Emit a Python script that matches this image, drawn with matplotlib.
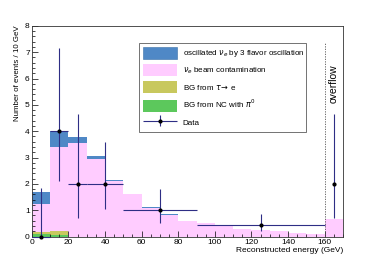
import numpy as np
import matplotlib
matplotlib.use("Agg")
from matplotlib import pyplot as plt
from matplotlib.patches import Patch
from matplotlib.container import ErrorbarContainer
from matplotlib.legend_handler import HandlerErrorbar
from matplotlib.ticker import MultipleLocator

plt.rcParams['font.family'] = ['Liberation Sans', 'DejaVu Sans']

# bin edges (10 GeV bins up to 160, plus overflow bin 160-170)
edges = [0, 10, 20, 30, 40, 50, 60, 70, 80, 90, 100, 110, 120, 130, 140, 150, 160, 170]

# stacked components (events / 10 GeV), bottom to top
bg_nc = [0.08, 0.06, 0, 0, 0, 0, 0, 0, 0, 0, 0, 0, 0, 0, 0, 0, 0]
bg_tau = [0.09, 0.14, 0, 0, 0, 0, 0, 0, 0, 0, 0, 0, 0, 0, 0, 0, 0]
beam_top = [1.24, 3.40, 3.56, 2.94, 2.10, 1.60, 1.10, 0.83, 0.59, 0.50, 0.40, 0.30, 0.25, 0.20, 0.15, 0.10, 0.67]
osc_top = [1.70, 3.99, 3.78, 3.04, 2.15, 1.62, 1.11, 0.84, 0.60, 0.51, 0.40, 0.30, 0.25, 0.20, 0.15, 0.10, 0.67]

# data points
data_x = [5, 15, 25, 40, 70, 125, 165]
data_y = [0, 4, 2, 2, 1, 0.43, 2]
data_xerr = [5, 5, 5, 10, 20, 35, 0]
data_ylo = [0, 1.9, 1.29, 0.95, 0.47, 0.23, 1.29]
data_yhi = [1.84, 3.16, 2.64, 1.58, 0.79, 0.41, 2.64]

c_osc = '#4f88c6'
c_beam = '#ffccff'
c_tau = '#c8c85e'
c_nc = '#5cc85c'
c_data = '#2e2e85'

fig = plt.figure(figsize=(3.74, 2.64), dpi=100)
ax = fig.add_axes([0.085, 0.104, 0.832, 0.798])

nc = np.array(bg_nc)
tau = nc + np.array(bg_tau)
ax.stairs(osc_top, edges, fill=True, color=c_osc)
ax.stairs(beam_top, edges, fill=True, color=c_beam)
ax.stairs(tau, edges, fill=True, color=c_tau)
ax.stairs(nc, edges, fill=True, color=c_nc)

data = ax.errorbar(data_x, data_y, xerr=data_xerr, yerr=[data_ylo, data_yhi],
                   fmt='o', ms=2, color='black', ecolor=c_data, elinewidth=0.8,
                   capsize=0, clip_on=False, zorder=5)

ax.plot([160, 160], [0, 7.35], ls=(0, (1.5, 1.5)), color='#555555', lw=0.6)
ax.text(164.8, 5.8, 'overflow', rotation=90, ha='center', va='center', fontsize=7.5)

ax.set_xlim(0, 170)
ax.set_ylim(0, 8)
ax.xaxis.set_major_locator(MultipleLocator(20))
ax.xaxis.set_minor_locator(MultipleLocator(5))
ax.yaxis.set_major_locator(MultipleLocator(1))
ax.yaxis.set_minor_locator(MultipleLocator(0.2))
ax.tick_params(which='both', direction='in', labelsize=6, pad=1.5, width=0.5)
ax.tick_params(which='major', length=4)
ax.tick_params(which='minor', length=2)
for s in ax.spines.values():
    s.set_linewidth(0.6)
    s.set_color('#333333')

ax.set_xlabel('Reconstructed energy (GeV)', fontsize=6, loc='right', labelpad=1)
ax.set_ylabel('Number of events / 10 GeV', fontsize=5.7, loc='top', labelpad=3)

handles = [Patch(facecolor=c_osc, edgecolor='#3a6fa8', lw=0.4),
           Patch(facecolor=c_beam),
           Patch(facecolor=c_tau),
           Patch(facecolor=c_nc),
           data]
labels = [r'oscillated $\nu_e$ by 3 flavor oscillation',
          r'$\nu_e$ beam contamination',
          r'BG from $\tau\!\rightarrow$ e',
          r'BG from NC with $\pi^0$',
          'Data']
leg = ax.legend(handles, labels, loc='upper left', bbox_to_anchor=(0.345, 0.53, 0.537, 0.39),
                mode='expand', borderaxespad=0, fontsize=5.8, frameon=True, fancybox=False,
                edgecolor='#333333', handlelength=4.2, handleheight=1.9, labelspacing=0.6,
                borderpad=0.5, handletextpad=0.7,
                handler_map={ErrorbarContainer: HandlerErrorbar(xerr_size=2.1, yerr_size=0.7)})
leg.get_frame().set_linewidth(0.6)

fig.savefig('out.png', dpi=100)
